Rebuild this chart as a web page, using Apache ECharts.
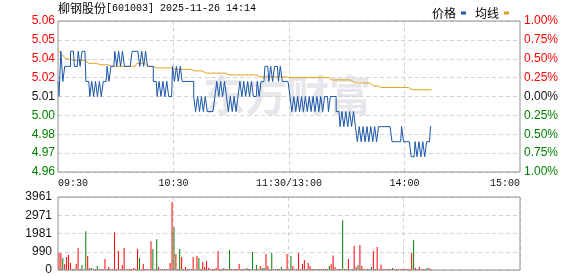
<!DOCTYPE html>
<html><head><meta charset="utf-8">
<script src="https://cdn.jsdelivr.net/npm/echarts@6/dist/echarts.min.js"></script>
<style>html,body{margin:0;padding:0;background:#fff}#c{width:578px;height:276px}</style>
</head><body><div id="c"></div>
<script>
const prevClose = 5.01;
const priceTickLabels = ['4.96','4.97','4.98','5.00','5.01','5.02','5.04','5.05','5.06'];
const pctTickLabels = ['1.00%','0.75%','0.50%','0.25%','0.00%','0.25%','0.50%','0.75%','1.00%'];
const volTickLabels = ['0','990','1981','2971','3961'];
const volMax = 3961;
const xTickIdx = [0, 60, 120, 180, 240];
const xTickText = ['09:30', '10:30', '11:30/13:00', '14:00', '15:00'];

const prices = [
5.02,5.01,5.04,5.02,5.03,5.03,5.03,5.04,5.04,5.03,
5.03,5.04,5.03,5.04,5.04,5.02,5.02,5.01,5.02,5.01,
5.02,5.01,5.02,5.01,5.02,5.02,5.03,5.02,5.03,5.03,
5.04,5.03,5.04,5.03,5.04,5.03,5.03,5.03,5.03,5.04,
5.04,5.04,5.04,5.03,5.04,5.03,5.04,5.03,5.03,5.03,
5.02,5.02,5.01,5.02,5.01,5.02,5.01,5.02,5.01,5.01,
5.03,5.02,5.03,5.02,5.03,5.02,5.02,5.02,5.02,5.02,
5.02,5.01,5.00,5.01,5.00,5.01,5.00,5.01,5.00,5.00,
5.00,5.00,5.01,5.02,5.01,5.02,5.01,5.02,5.01,5.00,
5.01,5.00,5.01,5.00,5.01,5.02,5.01,5.02,5.01,5.02,
5.01,5.02,5.01,5.01,5.02,5.01,5.02,5.02,5.03,5.03,
5.02,5.03,5.02,5.03,5.03,5.02,5.03,5.02,5.02,5.02,
5.02,5.01,5.00,5.01,5.00,5.01,5.00,5.01,5.00,5.01,
5.00,5.01,5.00,5.01,5.00,5.01,5.00,5.01,5.00,5.01,
5.01,5.00,5.01,5.01,5.01,5.00,5.00,4.99,5.00,4.99,
5.00,4.99,5.00,4.99,5.00,4.99,4.98,4.99,4.98,4.99,
4.98,4.99,4.98,4.99,4.98,4.99,4.98,4.99,4.99,4.99,
4.99,4.99,4.99,4.99,4.98,4.98,4.98,4.98,4.98,4.99,
4.98,4.98,4.98,4.98,4.97,4.97,4.98,4.97,4.98,4.97,
4.98,4.97,4.98,4.98,4.99
];

const avgPrices = [
5.041,5.040,5.038,5.037,5.035,5.035,5.035,5.034,5.034,5.034,
5.034,5.034,5.034,5.034,5.034,5.033,5.032,5.032,5.032,5.032,
5.032,5.032,5.031,5.031,5.031,5.031,5.031,5.030,5.030,5.030,
5.030,5.030,5.030,5.030,5.030,5.030,5.030,5.030,5.030,5.030,
5.030,5.032,5.032,5.032,5.032,5.032,5.032,5.030,5.030,5.030,
5.030,5.029,5.029,5.029,5.029,5.029,5.029,5.029,5.029,5.029,
5.028,5.028,5.028,5.028,5.028,5.028,5.028,5.028,5.028,5.028,
5.028,5.027,5.027,5.027,5.027,5.027,5.027,5.0255,5.0255,5.0255,
5.0255,5.0255,5.0255,5.0255,5.0255,5.0255,5.0255,5.0255,5.0255,5.0243,
5.0243,5.0243,5.0243,5.0243,5.0243,5.0243,5.0243,5.0243,5.0243,5.0243,
5.0243,5.0243,5.0243,5.0243,5.023,5.023,5.023,5.023,5.023,5.023,
5.023,5.023,5.023,5.023,5.023,5.023,5.023,5.023,5.023,5.023,
5.023,5.0225,5.0225,5.0225,5.0225,5.0225,5.0225,5.0225,5.0225,5.0225,
5.0225,5.0225,5.0225,5.0225,5.0225,5.0225,5.0225,5.0225,5.0225,5.0225,
5.0225,5.0225,5.021,5.021,5.021,5.021,5.021,5.021,5.021,5.021,
5.021,5.021,5.021,5.021,5.019,5.019,5.019,5.019,5.019,5.019,
5.019,5.019,5.019,5.019,5.017,5.017,5.017,5.017,5.016,5.016,
5.016,5.016,5.016,5.016,5.016,5.016,5.016,5.016,5.016,5.016,
5.016,5.016,5.016,5.016,5.0145,5.0145,5.0145,5.0145,5.0145,5.0145,
5.0145,5.0145,5.0145,5.0145,5.0145
];

const volumes = [
918,918,648,324,702,810,378,54,54,324,
1188,54,270,54,2106,756,108,108,54,54,
216,54,54,54,594,54,162,54,54,2052,
54,1026,54,270,1188,54,54,54,54,108,
54,1134,648,54,324,54,54,54,1566,1134,
54,1674,162,54,54,54,54,54,378,3690,
2322,864,54,1134,702,54,162,54,54,54,
702,54,756,648,54,432,162,486,108,54,
54,54,108,1026,54,54,108,54,54,1080,
54,54,54,54,324,54,54,54,108,54,
54,972,54,270,54,216,108,108,864,216,
54,918,54,54,54,54,162,54,54,864,
54,756,216,54,54,918,54,324,540,54,
378,216,54,54,54,54,54,54,54,54,
54,216,306,792,162,54,54,54,2700,54,
54,594,54,54,1296,162,270,1350,216,54,
54,54,54,162,1026,54,1242,54,270,54,
54,54,54,54,108,54,54,54,54,54,
54,54,54,54,918,1620,108,54,162,54,
54,54,108,108,54
];

const volDirs = (
'rrgrrrrggr' + 'rggrgrrgrr' + 'grrrrrrgrr' + 'rrrrrgrrrr' + 'rrgrrrrrrg' +
'rgrrrgrrrr' + 'grrgrrrrrr' + 'rrrgrrrrrr' + 'rrrrrrgrrg' + 'rrrrrrrrgr' +
'rgrgrrggrr' + 'rgrrrrgrrr' + 'rgrrrrrrrr' + 'rrrgrgrrrr' + 'rgrrrrrrgr' +
'rrggrrgrrg' + 'rrrgrrrrrr' + 'rrrrgrrrrr' + 'rrrrrgrrrr' + 'rggrr'
).split('');

function buildTimes() {
  const t = [];
  const fmt = m => String(Math.floor(m / 60)).padStart(2, '0') + ':' + String(m % 60).padStart(2, '0');
  for (let m = 9 * 60 + 30; m <= 11 * 60 + 30; m++) t.push(fmt(m));
  for (let m = 13 * 60 + 1; m <= 15 * 60; m++) t.push(fmt(m));
  return t;
}
const times = buildTimes();

const RED = '#ff0000', GREEN = '#008000', DARK = '#111111';
const gridLine = { show: true, lineStyle: { color: '#d4d4d4', type: [4, 3], width: 1 } };
const isInnerTick = i => xTickIdx.indexOf(i) > 0 && xTickIdx.indexOf(i) < xTickIdx.length - 1;
const pctIndex = v => Math.round((parseFloat(v) + 1) / 0.25);
const sideColor = v => { const k = pctIndex(v); return k > 4 ? RED : (k < 4 ? GREEN : DARK); };

const option = {
  animation: false,
  backgroundColor: '#ffffff',
  grid: [
    { left: 58, right: 58, top: 21, height: 151, show: true, borderColor: '#8f8f8f', borderWidth: 1, z: 5, outerBoundsMode: 'none' },
    { left: 58, right: 58, top: 197, height: 73, show: true, borderColor: '#8f8f8f', borderWidth: 1, z: 5, outerBoundsMode: 'none' }
  ],
  legend: {
    right: 64, top: 2, align: 'right', itemWidth: 5, itemHeight: 3, itemGap: 9, icon: 'rect',
    selectedMode: false,
    textStyle: { fontFamily: 'Noto Sans CJK SC', fontSize: 12, color: '#000' },
    data: [{ name: '价格' }, { name: '均线' }]
  },
  graphic: [
    {
      type: 'text', left: 58, top: 2, z: 10,
      style: {
        text: '{a|柳钢股份}{b|[601003] 2025-11-26 14:14}',
        rich: {
          a: { fontFamily: 'Noto Sans CJK SC', fontSize: 12, fill: '#000' },
          b: { fontFamily: 'Liberation Mono', fontSize: 10, fill: '#000' }
        }
      }
    },
    {
      type: 'text', x: 287, y: 95, z: 0, silent: true,
      style: {
        text: '东方财富', fontFamily: 'Noto Sans CJK SC', fontSize: 42, fontWeight: 'bold',
        fill: 'rgba(200,200,210,0.45)', align: 'center', verticalAlign: 'middle'
      }
    }
  ],
  xAxis: [
    {
      type: 'category', gridIndex: 0, data: times, boundaryGap: false,
      axisLine: { show: false }, axisTick: { show: false },
      axisLabel: {
        interval: (i) => xTickIdx.indexOf(i) >= 0,
        formatter: (val, i) => { const k = xTickIdx.indexOf(i); return k >= 0 ? xTickText[k] : ''; },
        fontFamily: 'Liberation Mono', fontSize: 10, color: DARK, margin: 6,
        alignMinLabel: 'left', alignMaxLabel: 'right', hideOverlap: false
      },
      splitLine: Object.assign({ interval: (i) => isInnerTick(i) }, gridLine)
    },
    {
      type: 'category', gridIndex: 1, data: times, boundaryGap: true,
      axisLine: { show: false }, axisTick: { show: false }, axisLabel: { show: false },
      splitLine: Object.assign({ interval: (i) => isInnerTick(i) }, gridLine)
    }
  ],
  yAxis: [
    {
      type: 'value', gridIndex: 0, position: 'left', min: -1, max: 1, interval: 0.25,
      axisLine: { show: false }, axisTick: { show: false },
      axisLabel: {
        formatter: v => priceTickLabels[pctIndex(v)],
        color: v => sideColor(v),
        fontFamily: 'Liberation Sans', fontSize: 12, margin: 3
      },
      splitLine: gridLine
    },
    {
      type: 'value', gridIndex: 0, position: 'right', min: -1, max: 1, interval: 0.25,
      axisLine: { show: false }, axisTick: { show: false },
      axisLabel: {
        formatter: v => pctTickLabels[pctIndex(v)],
        color: v => sideColor(v),
        fontFamily: 'Liberation Sans', fontSize: 12, margin: 4
      },
      splitLine: { show: false }
    },
    {
      type: 'value', gridIndex: 0, show: false,
      min: prevClose * 0.99, max: prevClose * 1.01,
      splitLine: { show: false }
    },
    {
      type: 'value', gridIndex: 1, position: 'left', min: 0, max: volMax, interval: volMax / 4,
      axisLine: { show: false }, axisTick: { show: false },
      axisLabel: {
        formatter: v => volTickLabels[Math.round(v / (volMax / 4))],
        color: DARK, fontFamily: 'Liberation Sans', fontSize: 12, margin: 6
      },
      splitLine: gridLine
    }
  ],
  series: [
    {
      name: '价格', type: 'line', xAxisIndex: 0, yAxisIndex: 2, data: prices,
      step: 'middle', symbol: 'none', showSymbol: false, z: 3,
      lineStyle: { color: '#1a56a8', width: 1 }, itemStyle: { color: '#1a56a8' }
    },
    {
      name: '均线', type: 'line', xAxisIndex: 0, yAxisIndex: 2, data: avgPrices,
      symbol: 'none', showSymbol: false, z: 2,
      lineStyle: { color: '#e0a01c', width: 1 }, itemStyle: { color: '#e0a01c' }
    },
    {
      name: '成交量', type: 'bar', xAxisIndex: 1, yAxisIndex: 3, barWidth: 1,
      data: volumes.map((v, i) => ({ value: v, itemStyle: { color: volDirs[i] === 'g' ? GREEN : RED } }))
    }
  ]
};

const chart = echarts.init(document.getElementById('c'), null, { renderer: 'canvas' });
chart.setOption(option);
</script></body></html>
